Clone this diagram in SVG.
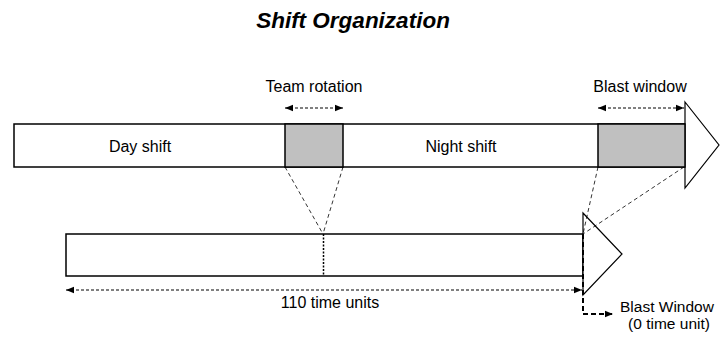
<svg xmlns="http://www.w3.org/2000/svg" width="721" height="338" viewBox="0 0 721 338">
<defs>
<marker id="ah" viewBox="0 0 10 10" refX="10" refY="5" markerWidth="8" markerHeight="8" markerUnits="userSpaceOnUse" orient="auto-start-reverse">
<path d="M0,1 L10,5 L0,9 z" fill="#000"/>
</marker>
<style>
text{font-family:"Liberation Sans",Arial,sans-serif;font-size:16px;fill:#000}
.title{font-size:22.5px;font-weight:bold;font-style:italic}
.small{font-size:15.5px}
.bar{fill:#fff;stroke:#000;stroke-width:1.5}
.gray{fill:#c0c0c0;stroke:#000;stroke-width:1.5}
.head{fill:#fff;stroke:#000;stroke-width:1.2}
.proj{fill:none;stroke:#000;stroke-width:0.8;stroke-dasharray:4,3}
.dim{fill:none;stroke:#000;stroke-width:1;stroke-dasharray:3,2}
</style>
</defs>
<text class="title" x="353" y="28" text-anchor="middle">Shift Organization</text>
<g id="top-timeline">
<rect class="bar" x="14" y="124" width="671" height="43"/>
<polygon class="head" points="685,102 719,145 685,188"/>
</g>
<g id="day-shift"><text x="140" y="152" text-anchor="middle">Day shift</text></g>
<g id="team-rotation-box"><rect class="gray" x="285" y="124" width="58" height="43"/></g>
<g id="night-shift"><text x="461" y="152" text-anchor="middle">Night shift</text></g>
<g id="blast-window-box"><rect class="gray" x="598" y="124" width="87" height="43"/></g>
<g id="team-rotation-label"><text x="314" y="92" text-anchor="middle">Team rotation</text></g>
<g id="blast-window-label"><text x="640" y="92" text-anchor="middle">Blast window</text></g>
<g id="bottom-timeline">
<rect class="bar" x="66" y="234" width="517" height="42"/>
<polygon class="head" points="583,213 622,254 583,295"/>
<line x1="323.5" y1="234" x2="323.5" y2="276" stroke="#000" stroke-width="1.5" stroke-dasharray="2,1.5"/>
</g>
<g id="time-label"><text x="330" y="308" text-anchor="middle">110 time units</text></g>
<g id="blast-window-zero"><text class="small" x="620" y="312">Blast Window</text><text class="small" x="669" y="329" text-anchor="middle">(0 time unit)</text></g>
<g id="connectors">
<line class="dim" x1="285" y1="108" x2="343" y2="108" marker-start="url(#ah)" marker-end="url(#ah)"/>
<line class="dim" x1="598" y1="108" x2="684" y2="108" marker-start="url(#ah)" marker-end="url(#ah)"/>
<line class="proj" x1="285" y1="167" x2="323" y2="234"/>
<line class="proj" x1="343" y1="167" x2="323" y2="234"/>
<line class="proj" x1="598" y1="167" x2="583" y2="234"/>
<line class="proj" x1="684" y1="167" x2="583" y2="234"/>
<line class="dim" x1="66" y1="290" x2="582" y2="290" marker-start="url(#ah)" marker-end="url(#ah)"/>
<polyline points="583,234 583,314 613,314" fill="none" stroke="#000" stroke-width="2" stroke-dasharray="5,3" marker-end="url(#ah)"/>
</g>
</svg>
